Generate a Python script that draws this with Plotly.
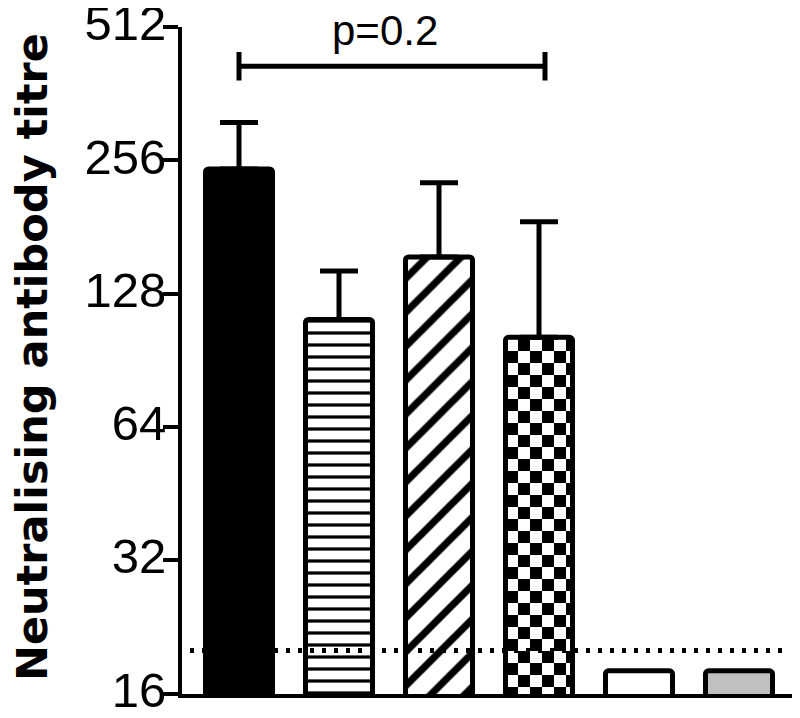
import math
import plotly.graph_objects as go

# group positions (no category labels shown on the x axis)
groups = [0, 1, 2, 3, 4, 5]
means = [245, 112, 155, 102, 18, 18]
err_up = [67, 32, 73, 84, 0, 0]
fills = ["solid", "hlines", "diag", "checker", "white", "grey"]

y_ticks = [16, 32, 64, 128, 256, 512]
detection_limit = 20
limit_x = [-0.49, 5.51]
p_text = "p=0.2"
bracket_x = [0, 3.06]
bracket_y = [418, 388, 450]  # bar level, lower and upper end of the end ticks

FONT = "Liberation Sans, Arial, Helvetica, sans-serif"
TITLE_FONT = "DejaVu Sans, Liberation Sans, Arial, sans-serif"

PATTERNS = {
    "solid": dict(color="black", pattern=None),
    "hlines": dict(color="white", pattern=dict(shape="-", size=12, solidity=0.27,
                                               fgcolor="black", bgcolor="white", fgopacity=1)),
    "diag": dict(color="white", pattern=dict(shape="/", size=24, solidity=0.3,
                                             fgcolor="black", bgcolor="white", fgopacity=1)),
    "checker": dict(color="white", pattern=dict(path="M0,0H12V12H0Z M12,12H24V24H12Z", size=24,
                                                fgcolor="black", bgcolor="white", fgopacity=1)),
    "white": dict(color="white", pattern=None),
    "grey": dict(color="#c0c0c0", pattern=None),
}

fig = go.Figure()
for x, m, e, f in zip(groups, means, err_up, fills):
    style = PATTERNS[f]
    marker = dict(color=style["color"], line=dict(color="black", width=5), cornerradius=3)
    if style["pattern"]:
        marker["pattern"] = style["pattern"]
    fig.add_trace(go.Bar(
        x=[x], y=[m],
        width=0.67,
        marker=marker,
        error_y=dict(type="data", array=[e], arrayminus=[0], symmetric=False,
                     thickness=5, width=19, color="black", visible=e > 0),
        showlegend=False,
    ))

# dotted detection limit
fig.add_trace(go.Scatter(
    x=limit_x, y=[detection_limit, detection_limit], mode="lines",
    line=dict(color="black", width=5, dash="4px,8px"),
    showlegend=False, hoverinfo="skip", cliponaxis=False,
))

# significance bracket
y_mid, y_lo, y_hi = bracket_y
bx0, bx1 = bracket_x
fig.add_trace(go.Scatter(
    x=[bx0, bx1, None, bx0, bx0, None, bx1, bx1],
    y=[y_mid, y_mid, None, y_lo, y_hi, None, y_lo, y_hi],
    mode="lines", line=dict(color="black", width=5),
    showlegend=False, hoverinfo="skip", cliponaxis=False,
))
fig.add_annotation(x=1.46, y=0.9955, xref="x", yref="paper", text=p_text,
                   showarrow=False, yanchor="middle",
                   font=dict(family=FONT, size=42, color="black"))

# y axis title as a free annotation so it can sit at the far left edge
fig.add_annotation(x=-0.246, y=0.505, xref="paper", yref="paper",
                   text="<b>Neutralising antibody titre</b>", textangle=-90,
                   showarrow=False, xanchor="center", yanchor="middle",
                   font=dict(family=TITLE_FONT, size=43, color="black"))

fig.update_layout(
    width=784, height=702,
    paper_bgcolor="white", plot_bgcolor="white",
    barmode="overlay",
    font=dict(family=FONT, color="black"),
    margin=dict(l=174, r=0, t=19, b=16, autoexpand=False),
    xaxis=dict(range=[-0.57, 5.53], showline=True, linecolor="black", linewidth=4,
               showticklabels=False, ticks="", showgrid=False, zeroline=False,
               automargin=False),
    yaxis=dict(type="log", range=[math.log10(15.96), math.log10(512.5)],
               tickvals=y_ticks, ticktext=[str(v) for v in y_ticks],
               ticks="outside", ticklen=15, tickwidth=4, tickcolor="black",
               ticklabelstandoff=-13, ticklabelshift=-4, ticklabeloverflow="allow",
               automargin=False,
               showline=True, linecolor="black", linewidth=4,
               showgrid=False, zeroline=False,
               tickfont=dict(family=FONT, size=49, color="black")),
)

fig.write_html("out.html")
